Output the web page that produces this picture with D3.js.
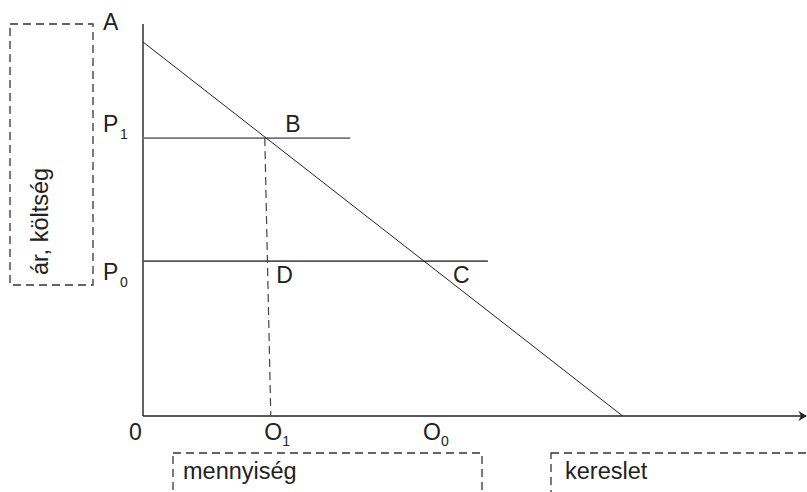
<!DOCTYPE html>
<head>
<meta charset="utf-8">
<style>
body { margin: 0; background: #fff; overflow: hidden; }
svg { display: block; }
text { font-family: "Liberation Sans", Arial, sans-serif; fill: #222; }
.sub { font-size: 14px; }
</style>
</head>
<body>
<script src="https://cdn.jsdelivr.net/npm/d3@7"></script>
<script>

// demand line: price A at q=0, falls to 0 at qMax
const demand = [{q: 0, p: 10}, {q: 10, p: 0}];
const prices = [{name: "P", sub: "1", p: 7.43}, {name: "P", sub: "0", p: 4.14}];
// how far each price line runs to the right
const priceEnds = [4.32, 7.19];
const pointLabels = ["B", "D", "C"];
const qLabels = [{name: "0", sub: ""}, {name: "O", sub: "1"}, {name: "O", sub: "0"}];
const boxLabels = ["ár, költség", "mennyiség", "kereslet"];

var width = 807, height = 492;

var svg = d3.select("body").append("svg")
    .attr("width", width)
    .attr("height", height);

var x = d3.scaleLinear().domain([0, 10]).range([143, 622.7]);
var y = d3.scaleLinear().domain([0, 10]).range([416, 42]);

// quantity where demand hits a price
function qAt(p) {
  var a = demand[0], b = demand[1];
  return a.q + (p - a.p) / (b.p - a.p) * (b.q - a.q);
}
var q1 = qAt(prices[0].p), q0 = qAt(prices[1].p);

svg.append("defs").append("marker")
    .attr("id", "arrow")
    .attr("viewBox", "0 0 10 12")
    .attr("refX", 9).attr("refY", 6)
    .attr("markerWidth", 6).attr("markerHeight", 7.5)
    .attr("markerUnits", "strokeWidth")
    .attr("orient", "auto")
  .append("path")
    .attr("d", "M0,0 L10,6 L0,12 L3,6 Z")
    .attr("fill", "#222");

// axes
svg.append("line")
    .attr("x1", x(0)).attr("y1", 24)
    .attr("x2", x(0)).attr("y2", y(0))
    .attr("stroke", "#222").attr("stroke-width", 1.4);
svg.append("line")
    .attr("x1", x(0)).attr("y1", y(0))
    .attr("x2", width - 1).attr("y2", y(0))
    .attr("stroke", "#222").attr("stroke-width", 1.4)
    .attr("marker-end", "url(#arrow)");

// price lines
svg.selectAll(".price")
    .data(prices)
    .enter().append("line")
    .attr("class", "price")
    .attr("x1", x(0)).attr("x2", function(d, i) { return x(priceEnds[i]); })
    .attr("y1", function(d) { return y(d.p); })
    .attr("y2", function(d) { return y(d.p); })
    .attr("stroke", function(d, i) { return i == 0 ? "#777" : "#555"; })
    .attr("stroke-width", 1.6);

// demand
svg.append("path")
    .datum(demand)
    .attr("d", d3.line().x(function(d) { return x(d.q); }).y(function(d) { return y(d.p); }))
    .attr("fill", "none")
    .attr("stroke", "#222")
    .attr("stroke-width", 1);

// dashed drop from B
svg.append("line")
    .attr("x1", x(q1) - 1.5).attr("y1", y(prices[0].p))
    .attr("x2", x(q1) + 4.5).attr("y2", y(0))
    .attr("stroke", "#444").attr("stroke-width", 1.2)
    .attr("stroke-dasharray", "8,5");

// labels
svg.append("text").attr("x", 103).attr("y", 30).style("font-size", "23px").text("A");

var pl = svg.selectAll(".plab")
    .data(prices)
    .enter().append("g")
    .attr("class", "plab")
    .attr("transform", function(d, i) {
      return "translate(103," + (y(d.p) + (i == 0 ? -6 : 19)) + ")";
    });
pl.append("text").style("font-size", "23px").text(function(d) { return d.name; });
pl.append("text").attr("class", "sub").attr("x", 17).attr("y", 7).text(function(d) { return d.sub; });

var ptPos = [[x(q1) + 19, y(prices[0].p) - 6], [x(q1) + 10, y(prices[1].p) + 22], [x(q0) + 29, y(prices[1].p) + 22]];
svg.selectAll(".pt")
    .data(pointLabels)
    .enter().append("text")
    .attr("class", "pt")
    .attr("x", function(d, i) { return ptPos[i][0]; })
    .attr("y", function(d, i) { return ptPos[i][1]; })
    .style("font-size", "23px")
    .text(function(d) { return d; });

var qPos = [x(0) - 14, x(q1) - 2, x(q0) - 1];
var ql = svg.selectAll(".qlab")
    .data(qLabels)
    .enter().append("g")
    .attr("class", "qlab")
    .attr("transform", function(d, i) { return "translate(" + qPos[i] + "," + (y(0) + 24) + ")"; });
ql.append("text").style("font-size", "23px").text(function(d) { return d.name; });
ql.append("text").attr("class", "sub").attr("x", 18).attr("y", 6).text(function(d) { return d.sub; });

// dashed boxes (the lower two run off the bottom edge)
var boxes = [
  {x: 10, y: 24, w: 83, h: 261},
  {x: 173, y: 453, w: 309, h: 80},
  {x: 551, y: 453, w: 300, h: 80}
];
svg.selectAll(".box")
    .data(boxes)
    .enter().append("rect")
    .attr("class", "box")
    .attr("x", function(d) { return d.x; })
    .attr("y", function(d) { return d.y; })
    .attr("width", function(d) { return d.w; })
    .attr("height", function(d) { return d.h; })
    .attr("fill", "none")
    .attr("stroke", "#333")
    .attr("stroke-width", 1.3)
    .attr("stroke-dasharray", "8,5");

svg.append("text")
    .attr("transform", "translate(48,275) rotate(-90)")
    .style("font-size", "23.5px")
    .text(boxLabels[0]);
svg.append("text").attr("x", 183).attr("y", 479).style("font-size", "23.5px").text(boxLabels[1]);
svg.append("text").attr("x", 565).attr("y", 479).style("font-size", "23.5px").text(boxLabels[2]);

</script>
</body>
</html>
